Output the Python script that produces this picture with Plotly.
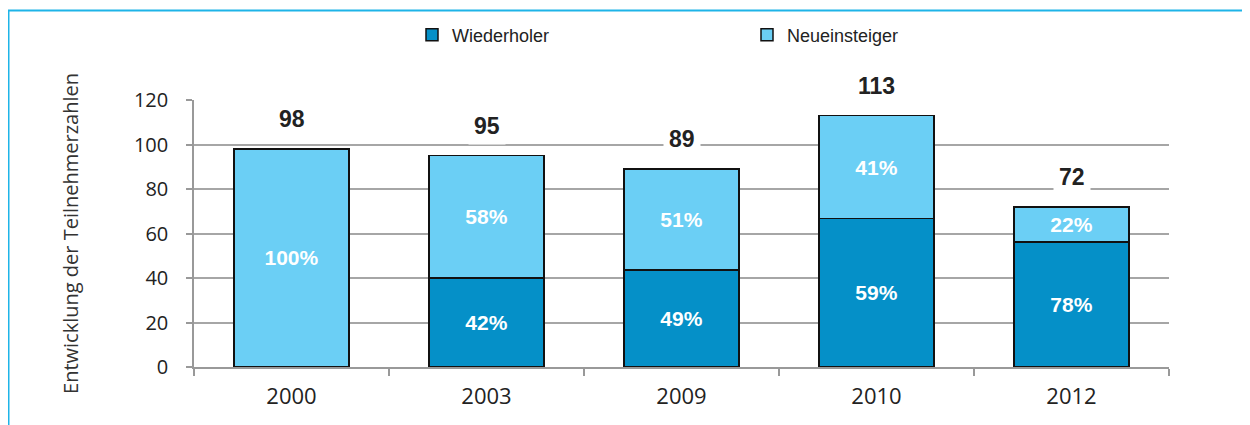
import plotly.graph_objects as go

# ---- data ----
years = ["2000", "2003", "2009", "2010", "2012"]
totals = [98, 95, 89, 113, 72]
wiederholer = [0, 40, 43.6, 66.7, 56.2]
neueinsteiger = [98, 55, 45.4, 46.3, 15.8]
pct_wiederholer = ["", "42%", "49%", "59%", "78%"]
pct_neueinsteiger = ["100%", "58%", "51%", "41%", "22%"]
y_ticks = [0, 20, 40, 60, 80, 100, 120]

C_WIED = "#0590C8"
C_NEU = "#6BCFF5"

OFF = 8  # page body margin
W, H = 1250 - OFF, 425 - OFF
# plot area in page pixels: x 194..1169, y 100..367
ML = 194 - OFF
MT = 100 - OFF
MR = W - (1169 - OFF)
MB = H - (367 - OFF)

fig = go.Figure()
fig.add_trace(go.Bar(
    name="Wiederholer", x=years, y=wiederholer,
    marker=dict(color=C_WIED, line=dict(color="#111111", width=1.5)),
    text=pct_wiederholer, textposition="inside", insidetextanchor="middle",
    textfont=dict(family="Liberation Sans, Arial", size=21, color="white", weight="bold"),
    textangle=0,
))
fig.add_trace(go.Bar(
    name="Neueinsteiger", x=years, y=neueinsteiger,
    marker=dict(color=C_NEU, line=dict(color="#111111", width=1.5)),
    text=pct_neueinsteiger, textposition="inside", insidetextanchor="middle",
    textfont=dict(family="Liberation Sans, Arial", size=21, color="white", weight="bold"),
    textangle=0,
))

for i, t in enumerate(totals):
    fig.add_annotation(
        x=i, y=t, text=f"<b>{t}</b>", showarrow=False,
        yanchor="middle", yshift=30, bgcolor="white", borderpad=5,
        font=dict(family="Liberation Sans, Arial", size=23, color="#222222"),
    )

pw = W - ML - MR
ph = H - MT - MB
def px_to_paper_x(px):
    return (px - OFF - ML) / pw
def px_to_paper_y(py):
    return 1 - (py - OFF - MT) / ph

# outer frame (left and top edges, cyan)
fig.add_shape(type="line", xref="paper", yref="paper", layer="above",
              x0=px_to_paper_x(8.5), x1=px_to_paper_x(8.5),
              y0=px_to_paper_y(10), y1=px_to_paper_y(440),
              line=dict(color="#1EB4E8", width=2))
fig.add_shape(type="line", xref="paper", yref="paper", layer="above",
              x0=px_to_paper_x(7.5), x1=px_to_paper_x(1270),
              y0=px_to_paper_y(10.5), y1=px_to_paper_y(10.5),
              line=dict(color="#1EB4E8", width=2))

fig.update_layout(
    width=W, height=H,
    margin=dict(l=ML, r=MR, t=MT, b=MB, autoexpand=False),
    barmode="stack", bargap=0.41,
    plot_bgcolor="white", paper_bgcolor="white",
    showlegend=True,
    legend=dict(
        orientation="h", x=px_to_paper_x(412), y=px_to_paper_y(35),
        xanchor="left", yanchor="middle", bgcolor="rgba(0,0,0,0)",
        font=dict(family="Liberation Sans, Arial", size=18, color="#222222"),
        entrywidth=290, entrywidthmode="pixels",
        itemwidth=30, traceorder="normal",
    ),
    xaxis=dict(
        type="category", range=[-0.5, 4.5], autorange=False,
        tickson="boundaries", ticks="outside", ticklen=7,
        tickcolor="#999999", tickwidth=1.5,
        showline=True, linecolor="#999999", linewidth=1.5,
        tickfont=dict(family="Open Sans, Liberation Sans", size=22, color="#222222"),
        ticklabelstandoff=9,
        showgrid=False,
    ),
    yaxis=dict(
        range=[0, 120], autorange=False, tickvals=y_ticks, ticks="outside", ticklen=6,
        tickcolor="#999999", tickwidth=1.5,
        showline=True, linecolor="#999999", linewidth=1.5,
        showgrid=True, gridcolor="#A6A6A6", gridwidth=1.5,
        zeroline=False,
        tickfont=dict(family="Open Sans, Liberation Sans", size=20, color="#222222"),
        ticklabelstandoff=14,
        title=dict(text="Entwicklung der Teilnehmerzahlen", standoff=50,
                   font=dict(family="Open Sans, Liberation Sans", size=20, color="#333333")),
    ),
)

fig.write_html("out.html")
